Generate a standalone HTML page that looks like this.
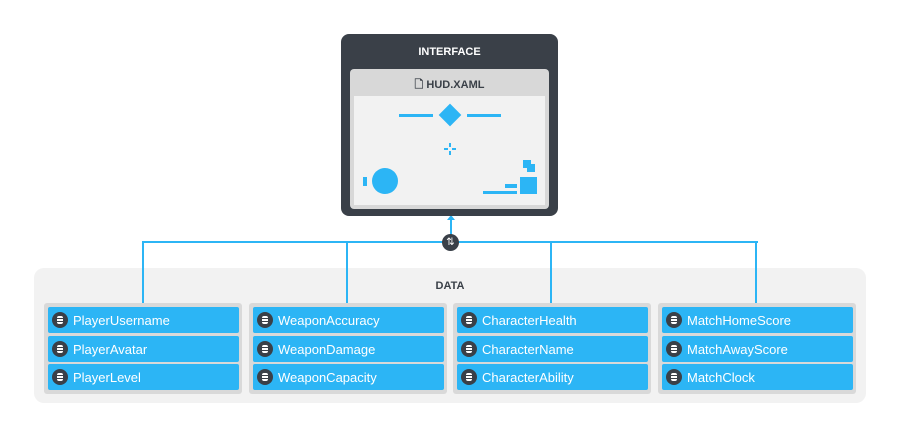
<!DOCTYPE html><html><head><style>
body{margin:0;width:900px;height:438px;background:#fff;position:relative;font-family:"Liberation Sans",sans-serif;overflow:hidden}
.a{position:absolute}
.grp{position:absolute;top:303px;width:198px;height:91px;background:#d9d9d9;border-radius:3px}
.row{position:absolute;left:4px;width:191px;height:26px;background:#2cb5f5;border-radius:2px;color:#fff;font-size:13px;line-height:28px;padding-left:25px;box-sizing:border-box}
.ic{position:absolute;left:4px;top:5px;width:16px;height:16px;border-radius:50%;background:#3a4048}
.ic:after{content:"";position:absolute;left:5px;top:4px;width:6px;height:8px;background:repeating-linear-gradient(#fff 0 2px,#3a4048 2px 3px);border-radius:2px}
.v{position:absolute;width:2px;background:#2cb5f5}
</style></head><body>
<div class="a" style="left:34px;top:268px;width:832px;height:135px;background:#f2f2f2;border-radius:10px"></div>
<div class="a" style="left:0;top:280px;width:900px;text-align:center;font-size:11px;font-weight:bold;color:#3a4048">DATA</div>
<div class="a" style="left:142px;top:241px;width:616px;height:2px;background:#2cb5f5"></div>
<div class="v" style="left:142px;top:241px;height:62px"></div>
<div class="v" style="left:346px;top:241px;height:62px"></div>
<div class="v" style="left:550px;top:241px;height:62px"></div>
<div class="v" style="left:755px;top:241px;height:62px"></div>
<div class="v" style="left:450px;top:218px;height:24px"></div>
<div class="a" style="left:447px;top:215px;width:0;height:0;border-left:4px solid transparent;border-right:4px solid transparent;border-bottom:5px solid #2cb5f5"></div>
<div class="a" style="left:442px;top:234px;width:17px;height:17px;border-radius:50%;background:#3a4048;color:#fff;font-size:10px;line-height:17px;text-align:center">⇅</div>
<div class="a" style="left:341px;top:34px;width:217px;height:182px;background:#3a4048;border-radius:8px"></div>
<div class="a" style="left:341px;top:46px;width:217px;text-align:center;color:#fff;font-size:11px;font-weight:bold">INTERFACE</div>
<div class="a" style="left:350px;top:69px;width:199px;height:140px;background:#d8d8d8;border-radius:4px"></div>
<div class="a" style="left:350px;top:76px;width:199px;text-align:center;color:#3a4048;font-size:11px;font-weight:bold">🗋 HUD.XAML</div>
<div class="a" style="left:354px;top:96px;width:191px;height:109px;background:#f2f2f2"></div>
<div class="a" style="left:399px;top:114px;width:34px;height:3px;background:#2cb5f5"></div>
<div class="a" style="left:467px;top:114px;width:34px;height:3px;background:#2cb5f5"></div>
<div class="a" style="left:442px;top:107px;width:16px;height:16px;background:#2cb5f5;transform:rotate(45deg)"></div>
<div class="a" style="left:449px;top:143px;width:2px;height:12px;background:#2cb5f5"></div>
<div class="a" style="left:444px;top:148px;width:12px;height:2px;background:#2cb5f5"></div>
<div class="a" style="left:449px;top:147px;width:2px;height:4px;background:#f2f2f2"></div>
<div class="a" style="left:448px;top:148px;width:4px;height:2px;background:#f2f2f2"></div>
<div class="a" style="left:363px;top:177px;width:4px;height:9px;background:#2cb5f5"></div>
<div class="a" style="left:372px;top:168px;width:26px;height:26px;border-radius:50%;background:#2cb5f5"></div>
<div class="a" style="left:523px;top:160px;width:8px;height:8px;background:#2cb5f5"></div>
<div class="a" style="left:527px;top:164px;width:8px;height:8px;background:#2cb5f5"></div>
<div class="a" style="left:520px;top:177px;width:17px;height:17px;background:#2cb5f5"></div>
<div class="a" style="left:505px;top:184px;width:12px;height:4px;background:#2cb5f5"></div>
<div class="a" style="left:483px;top:191px;width:34px;height:3px;background:#2cb5f5"></div>

<div class="grp" style="left:44px"><div class="row" style="top:4px"><i class="ic"></i>PlayerUsername</div><div class="row" style="top:33px"><i class="ic"></i>PlayerAvatar</div><div class="row" style="top:61px"><i class="ic"></i>PlayerLevel</div></div>
<div class="grp" style="left:249px"><div class="row" style="top:4px"><i class="ic"></i>WeaponAccuracy</div><div class="row" style="top:33px"><i class="ic"></i>WeaponDamage</div><div class="row" style="top:61px"><i class="ic"></i>WeaponCapacity</div></div>
<div class="grp" style="left:453px"><div class="row" style="top:4px"><i class="ic"></i>CharacterHealth</div><div class="row" style="top:33px"><i class="ic"></i>CharacterName</div><div class="row" style="top:61px"><i class="ic"></i>CharacterAbility</div></div>
<div class="grp" style="left:658px"><div class="row" style="top:4px"><i class="ic"></i>MatchHomeScore</div><div class="row" style="top:33px"><i class="ic"></i>MatchAwayScore</div><div class="row" style="top:61px"><i class="ic"></i>MatchClock</div></div>
</body></html>
